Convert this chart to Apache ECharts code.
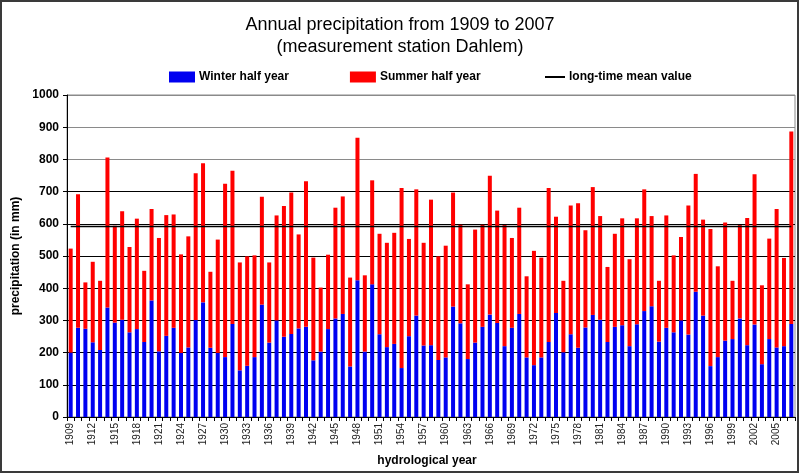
<!DOCTYPE html>
<html>
<head>
<meta charset="utf-8">
<script src="https://cdn.jsdelivr.net/npm/echarts@6/dist/echarts.min.js"></script>
<style>
html,body{margin:0;padding:0;background:#fff;}
#chart{width:800px;height:474px;}
</style>
</head>
<body>
<div id="chart"></div>
<script>
var years = ['1909','1910','1911','1912','1913','1914','1915','1916','1917','1918','1919','1920','1921','1922','1923','1924','1925','1926','1927','1928','1929','1930','1931','1932','1933',
'1934','1935','1936','1937','1938','1939','1940','1941','1942','1943','1944','1945','1946','1947','1948','1949','1950','1951','1952','1953','1954','1955','1956','1957',
'1958','1959','1960','1961','1962','1963','1964','1965','1966','1967','1968','1969','1970','1971','1972','1973','1974','1975','1976','1977','1978','1979','1980','1981','1982',
'1983','1984','1985','1986','1987','1988','1989','1990','1991','1992','1993','1994','1995','1996','1997','1998','1999','2000','2001','2002','2003','2004','2005','2006','2007'];

var winterHalf = [200,277,274,232,208,340,293,302,263,273,233,362,204,252,277,199,216,301,356,215,199,186,289,145,159,
186,349,231,300,249,258,275,280,176,203,273,306,320,157,425,203,412,257,217,227,152,251,315,222,
223,177,185,343,291,180,231,280,318,292,220,277,320,185,161,185,233,323,201,257,215,278,317,302,233,
280,285,220,288,329,344,234,277,263,300,256,389,315,158,186,237,242,306,223,287,164,242,216,220,289];

var summerHalf = [323,415,144,250,215,466,301,337,265,343,221,284,352,375,352,306,345,456,432,236,352,538,476,335,340,
316,335,249,326,406,439,292,452,319,199,231,344,365,276,442,237,323,312,324,345,559,302,392,319,
452,322,347,354,306,232,351,317,431,349,376,279,330,252,355,310,478,299,222,400,449,302,397,322,233,
289,332,270,329,378,280,189,349,239,259,401,366,298,426,282,367,181,290,395,467,245,312,430,274,598];

var meanValue = 591;

var yTicks = {min: 0, max: 1000, interval: 100};

var chart = echarts.init(document.getElementById('chart'));
var FONT = 'Liberation Sans, Arial, sans-serif';

var gridColors = ['#000','#000','#000','#000','#000','#000','#000','#000','#8a8a8a','#8a8a8a','#8a8a8a'];

chart.setOption({
  backgroundColor: '#fff',
  animation: false,
  title: {
    text: 'Annual precipitation from 1909 to 2007\n(measurement station Dahlem)',
    left: 'center',
    top: 9,
    textStyle: {fontFamily: FONT, fontSize: 18, fontWeight: 'normal', color: '#000', lineHeight: 22}
  },
  legend: [{
    data: ['Winter half year', 'Summer half year'],
    left: 164, top: 66,
    itemWidth: 26, itemHeight: 11, itemGap: 61,
    icon: 'rect',
    textStyle: {fontFamily: FONT, fontSize: 12, fontWeight: 'bold', color: '#000', padding: [0,0,0,-1]},
    selectedMode: false
  }, {
    data: ['long-time mean value'],
    left: 540, top: 66,
    itemWidth: 20, itemHeight: 2,
    icon: 'rect',
    itemStyle: {color: '#000'},
    textStyle: {fontFamily: FONT, fontSize: 12, fontWeight: 'bold', color: '#000', padding: [0,0,0,-1]},
    selectedMode: false
  }],
  grid: {left: 67, right: 5, top: 95, bottom: 57, show: true, borderColor: '#8a8a8a', borderWidth: 1, backgroundColor: '#fff'},
  xAxis: {
    type: 'category',
    data: years,
    name: 'hydrological year',
    nameLocation: 'middle',
    nameGap: 38,
    nameTextStyle: {fontFamily: FONT, fontSize: 12, fontWeight: 'bold', color: '#000', padding: [0,0,0,-8]},
    axisLine: {lineStyle: {color: '#000', width: 1}},
    axisTick: {show: true, interval: 0, length: 4, lineStyle: {color: '#000'}},
    axisLabel: {interval: 2, rotate: 90, fontFamily: FONT, fontSize: 10, color: '#222', margin: 6},
    splitLine: {show: false}
  },
  yAxis: {
    type: 'value',
    min: yTicks.min, max: yTicks.max, interval: yTicks.interval,
    name: 'precipitation (in mm)',
    nameLocation: 'middle',
    nameGap: 44,
    nameTextStyle: {fontFamily: FONT, fontSize: 12, fontWeight: 'bold', color: '#000'},
    axisLine: {show: true, lineStyle: {color: '#000', width: 1}},
    axisTick: {show: true, length: 4, lineStyle: {color: '#000'}},
    axisLabel: {fontFamily: FONT, fontSize: 12, fontWeight: 'bold', color: '#000', margin: 8,
      formatter: function (v) { return String(v); }},
    splitLine: {show: true, lineStyle: {color: gridColors, width: 1}}
  },
  series: [{
    name: 'Winter half year',
    type: 'bar',
    stack: 'total',
    barWidth: 4,
    data: winterHalf,
    itemStyle: {color: '#0000f0'}
  }, {
    name: 'Summer half year',
    type: 'bar',
    stack: 'total',
    barWidth: 4,
    data: summerHalf,
    itemStyle: {color: '#ff0000'}
  }, {
    name: 'long-time mean value',
    type: 'line',
    symbol: 'none',
    data: [],
    lineStyle: {color: '#000', width: 1.5},
    itemStyle: {color: '#000'},
    markLine: {
      symbol: 'none',
      silent: true,
      label: {show: false},
      lineStyle: {color: '#000', width: 1.3, type: 'solid'},
      data: [[{coord: [years[0], meanValue]}, {coord: [years[years.length - 1], meanValue]}]]
    }
  }],
  graphic: [{
    type: 'rect',
    shape: {x: 1, y: 1, width: 797, height: 471},
    style: {fill: 'none', stroke: '#3a3a3a', lineWidth: 2},
    silent: true,
    z: 100
  }]
});
</script>
</body>
</html>
